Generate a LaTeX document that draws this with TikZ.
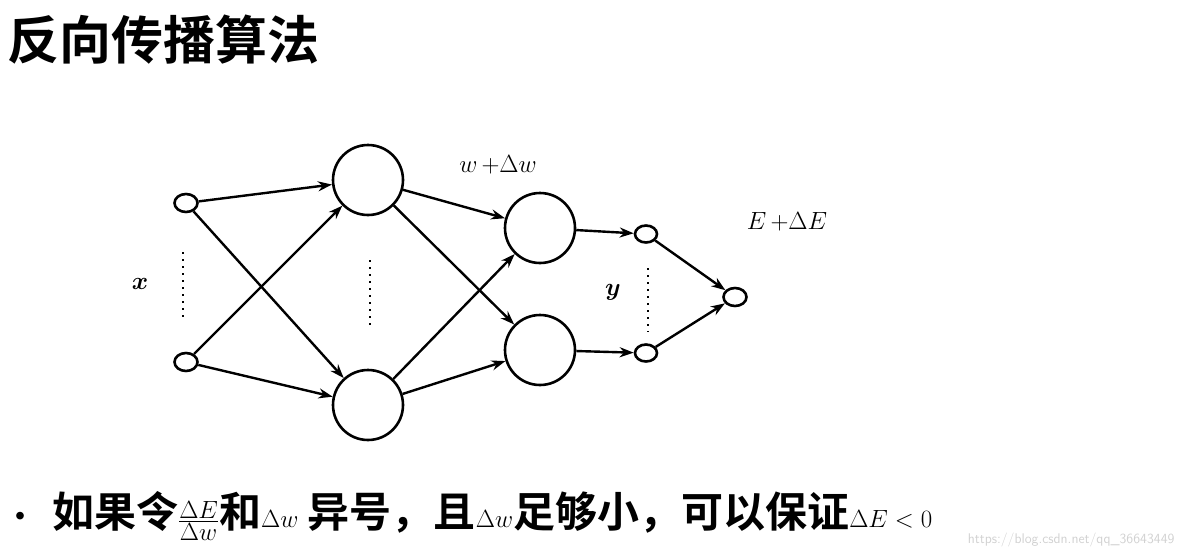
\documentclass[tikz,border=0pt]{standalone}
\usepackage{fontspec}
\usepackage{amsmath}
\newfontfamily\cjk{Noto Sans CJK SC}[BoldFont={Noto Sans CJK SC Bold}]
\usetikzlibrary{arrows.meta,shapes.geometric}
\begin{document}
\begin{tikzpicture}[x=1pt,y=-1pt,
  small/.style={draw,line width=2.6pt,ellipse,minimum width=23pt,minimum height=18pt,inner sep=0},
  big/.style={draw,line width=2.6pt,circle,minimum size=70pt,inner sep=0},
  arr/.style={-{Stealth[length=14pt,width=10pt]},line width=2.4pt},
  dots/.style={line width=2.2pt,dash pattern=on 2pt off 5pt}]
\useasboundingbox (0,0) rectangle (1181,558);
\node[anchor=west,font=\cjk\bfseries\fontsize{52}{60}\selectfont] (title) at (4,40) {反向传播算法};
\node[small] (i1) at (186,203) {};
\node[small] (i2) at (186,362) {};
\node[big] (a1) at (368,180) {};
\node[big] (a2) at (368,405) {};
\node[big] (b1) at (540,228) {};
\node[big] (b2) at (540,350) {};
\node[small,minimum width=22pt,minimum height=17pt] (o1) at (646,234) {};
\node[small,minimum width=22pt,minimum height=17pt] (o2) at (646,353) {};
\node[small] (f) at (735,297) {};
\foreach \s/\t in {i1/a1,i1/a2,i2/a1,i2/a2,a1/b1,a1/b2,a2/b1,a2/b2,b1/o1,b2/o2,o1/f,o2/f}
  \draw[arr] (\s) -- (\t);
\coordinate (d1s) at (183,252); \coordinate (d1e) at (183,318);
\coordinate (d2s) at (370,260); \coordinate (d2e) at (370,325);
\coordinate (d3s) at (648,268); \coordinate (d3e) at (648,332);
\draw[dots] (d1s) -- (d1e);
\draw[dots] (d2s) -- (d2e);
\draw[dots] (d3s) -- (d3e);
\node[font=\fontsize{32}{36}\selectfont] (lx) at (140,284) {$\boldsymbol{x}$};
\node[font=\fontsize{32}{36}\selectfont] (ly) at (613,292) {$\boldsymbol{y}$};
\node[font=\fontsize{31}{36}\selectfont] (lw) at (498,165) {$w\,{+}\Delta w$};
\node[font=\fontsize{31}{36}\selectfont] (le) at (787,222) {$E\,{+}\Delta E$};
\node[anchor=west,font=\cjk\bfseries\fontsize{42}{48}\selectfont] (txt) at (2,516) {\fontsize{30}{30}\selectfont•\fontsize{42}{48}\selectfont\ \,如果令$\frac{\Delta E}{\Delta w}$和$\Delta w$ 异号，且$\Delta w$足够小，可以保证$\Delta E<0$};
\node[anchor=east,text=black!18,font=\sffamily\fontsize{14}{16}\selectfont] (wm) at (1178,540) {https://blog.csdn.net/qq\_36643449};
\end{tikzpicture}
\end{document}
